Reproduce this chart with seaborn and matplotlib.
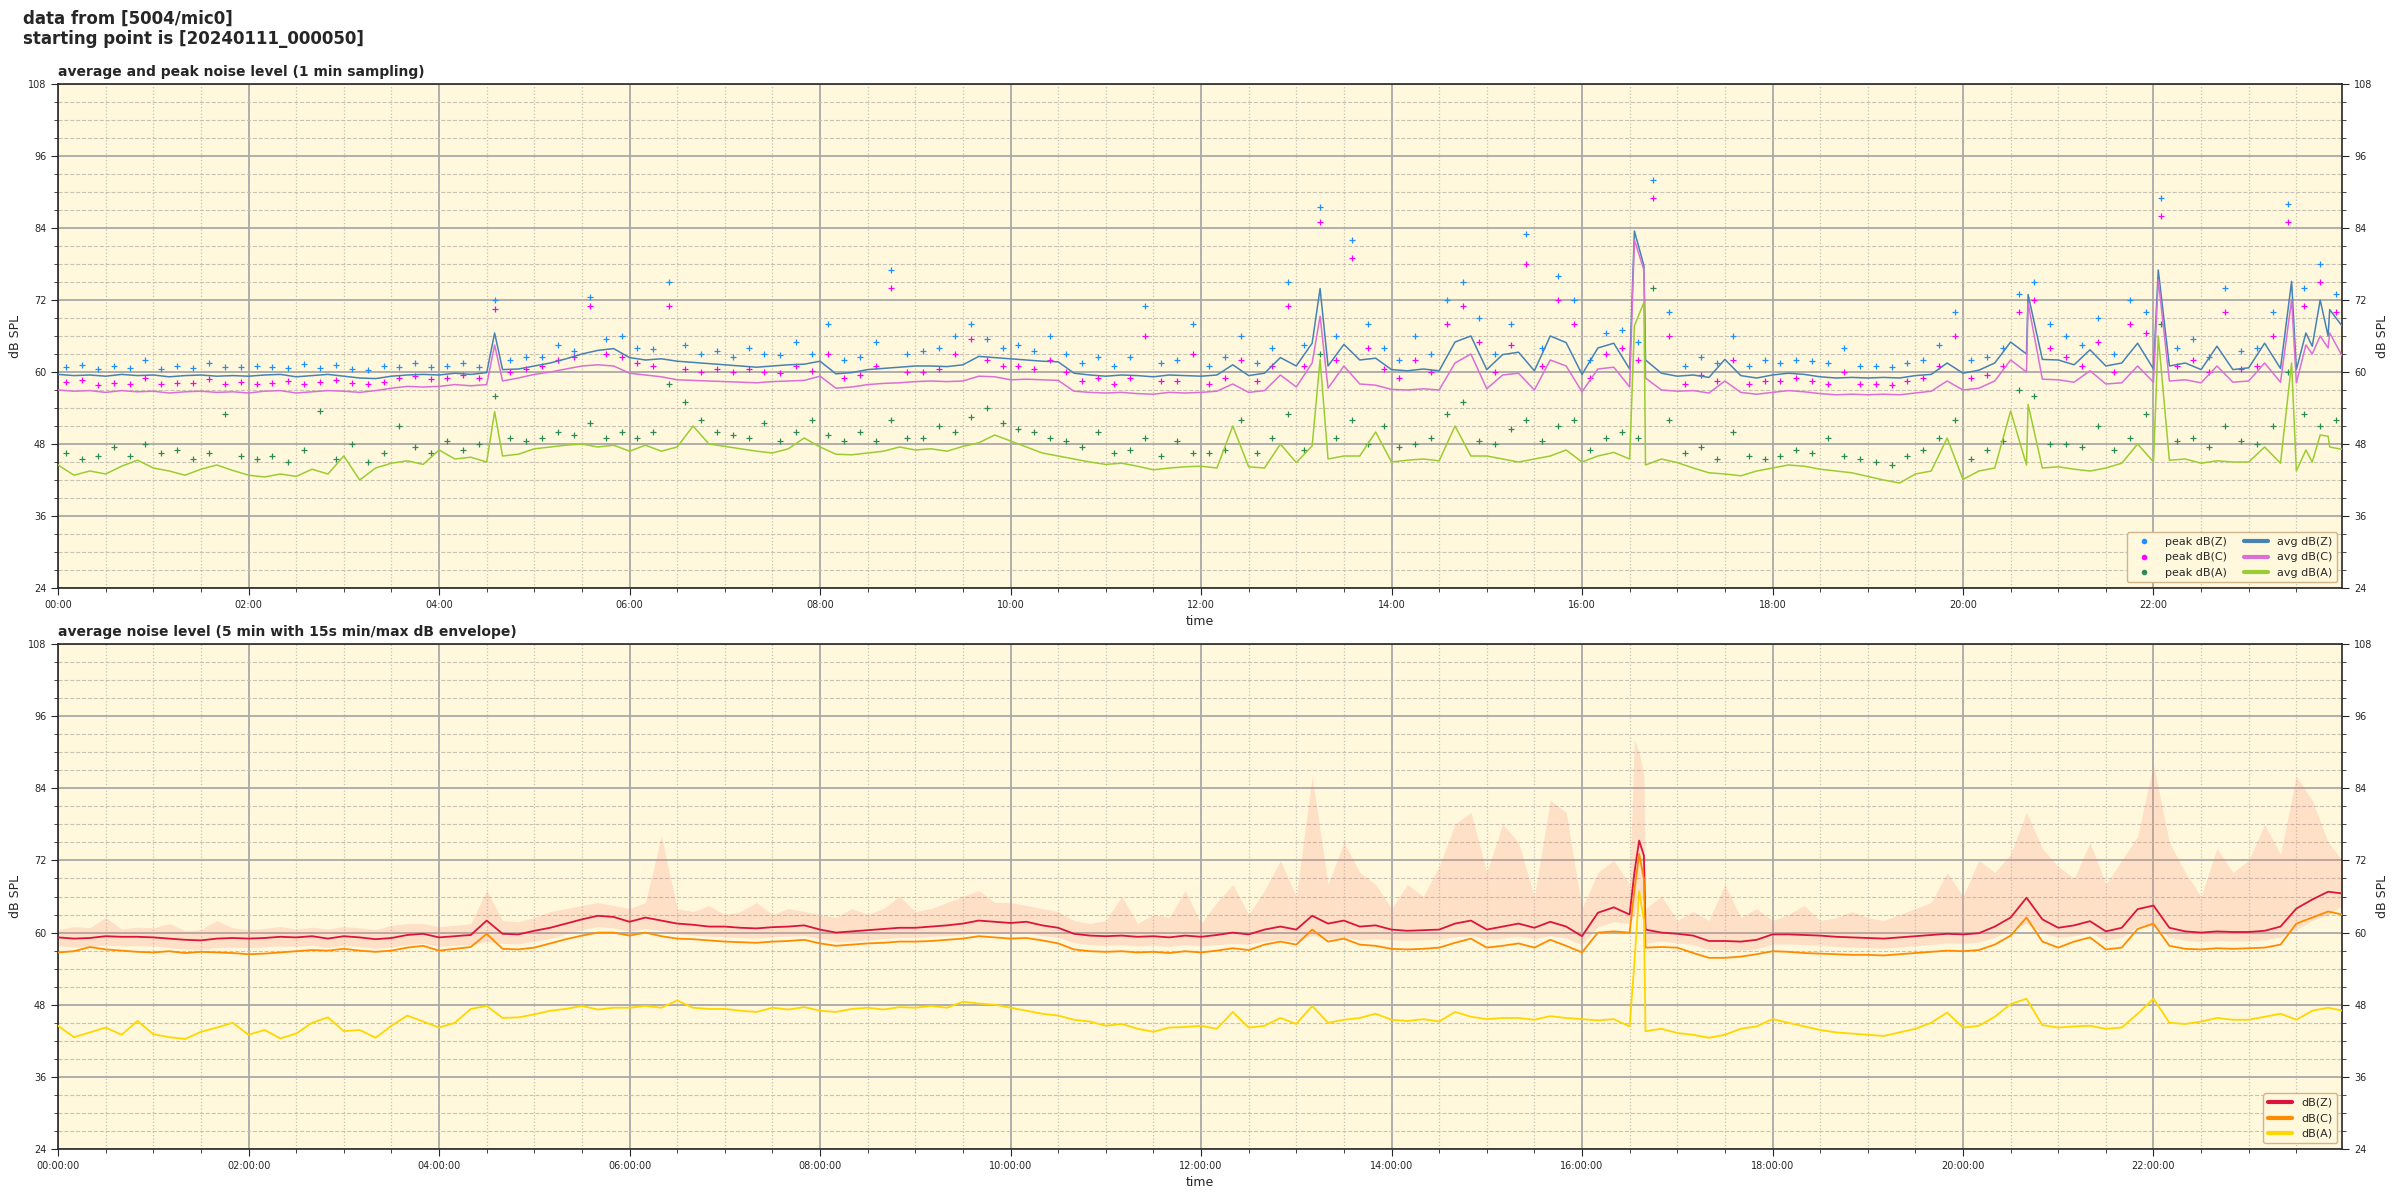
import numpy as np
import pandas as pd
import seaborn as sns
import matplotlib.pyplot as plt
import matplotlib.dates as mdates
from matplotlib.lines import Line2D

# ---- top chart: 1 min avg + peaks, read every 10 min (minute 0..1430) ----
avg_z = [59.6, 59.4, 59.5, 59.3, 59.6, 59.4,  59.5, 59.2, 59.4, 59.5, 59.3, 59.4,
         59.3, 59.5, 59.6, 59.2, 59.4, 59.6,  59.3, 59.0, 58.9, 59.3, 59.5, 59.6,
         59.5, 59.8, 59.6, 59.9, 60.4, 60.5,  61.0, 61.5, 62.2, 63.0, 63.6, 63.9,
         62.4, 62.0, 62.2, 61.8, 61.6, 61.4,  61.2, 61.0, 60.8, 61.0, 61.2, 61.3,
         61.8, 59.7, 59.9, 60.4, 60.6, 60.8,  61.0, 61.0, 60.9, 61.2, 62.6, 62.4,
         62.2, 62.0, 61.8, 61.7, 59.8, 59.5,  59.3, 59.5, 59.4, 59.2, 59.5, 59.4,
         59.3, 59.5, 61.2, 59.4, 59.8, 62.4,  61.0, 64.8, 61.0, 64.6, 62.0, 62.3,
         60.4, 60.2, 60.5, 60.2, 65.0, 66.0,  60.4, 62.9, 63.3, 60.2, 66.0, 64.9,
         59.6, 64.0, 64.8, 60.5, 62.0, 59.8,  59.3, 59.5, 59.1, 62.1, 59.4, 59.0,
         59.5, 59.8, 59.6, 59.2, 59.0, 59.1,  59.0, 59.1, 59.0, 59.4, 59.6, 61.5,
         59.8, 60.3, 61.5, 65.0, 63.0, 62.1,  62.0, 61.2, 63.7, 61.0, 61.5, 64.8,
         60.5, 61.0, 61.5, 60.4, 64.3, 60.4,  60.7, 64.8, 60.6, 60.4, 64.3, 66.0]
avg_c = [57.0, 56.8, 56.9, 56.6, 56.9, 56.7,  56.8, 56.5, 56.7, 56.8, 56.6, 56.7,
         56.5, 56.8, 56.9, 56.5, 56.7, 56.9,  56.8, 56.6, 56.9, 57.3, 57.6, 57.5,
         57.6, 57.9, 57.7, 57.9, 58.5, 59.0,  59.6, 60.0, 60.5, 61.0, 61.2, 61.0,
         59.8, 59.5, 59.2, 58.7, 58.6, 58.5,  58.4, 58.3, 58.2, 58.4, 58.5, 58.6,
         59.3, 57.3, 57.5, 57.9, 58.1, 58.2,  58.4, 58.5, 58.4, 58.5, 59.3, 59.2,
         58.7, 58.8, 58.7, 58.6, 56.8, 56.6,  56.5, 56.6, 56.4, 56.3, 56.6, 56.5,
         56.6, 56.8, 58.0, 56.6, 56.9, 59.5,  57.5, 61.5, 57.3, 61.0, 58.0, 57.8,
         57.1, 57.0, 57.2, 57.0, 61.5, 63.0,  57.2, 59.5, 59.8, 57.0, 62.0, 61.0,
         56.7, 60.5, 60.8, 57.5, 59.0, 57.0,  56.8, 56.9, 56.5, 58.5, 56.6, 56.3,
         56.6, 56.9, 56.7, 56.4, 56.2, 56.3,  56.2, 56.3, 56.2, 56.5, 56.8, 58.5,
         57.0, 57.3, 58.5, 62.0, 60.0, 58.8,  58.7, 58.3, 60.2, 58.0, 58.2, 61.0,
         58.3, 58.5, 58.7, 58.2, 61.0, 58.3,  58.5, 61.5, 58.3, 58.2, 63.0, 64.0]
avg_a = [44.5, 42.8, 43.5, 43.0, 44.3, 45.3,  44.0, 43.5, 42.8, 43.8, 44.5, 43.6,
         42.8, 42.5, 43.0, 42.6, 43.8, 43.0,  46.0, 42.0, 44.0, 44.8, 45.2, 44.6,
         47.0, 45.5, 45.8, 45.0, 46.0, 46.3,  47.2, 47.5, 47.8, 48.0, 47.5, 47.8,
         46.8, 47.8, 46.8, 47.5, 51.0, 48.0,  47.6, 47.2, 46.8, 46.5, 47.2, 49.0,
         47.5, 46.3, 46.2, 46.5, 46.8, 47.5,  47.0, 47.2, 46.8, 47.6, 48.2, 49.5,
         48.5, 47.5, 46.5, 46.0, 45.5, 45.0,  44.6, 44.8, 44.3, 43.7, 44.0, 44.2,
         44.3, 44.0, 51.0, 44.2, 44.0, 48.0,  44.9, 47.7, 45.5, 46.0, 46.0, 50.0,
         45.0, 45.3, 45.5, 45.2, 51.0, 46.0,  46.0, 45.5, 45.0, 45.5, 46.0, 47.0,
         45.0, 46.0, 46.6, 45.5, 44.5, 45.5,  44.9, 44.0, 43.2, 43.0, 42.7, 43.5,
         44.0, 44.5, 44.3, 43.8, 43.5, 43.2,  42.6, 42.0, 41.5, 43.0, 43.5, 49.0,
         42.1, 43.5, 44.0, 53.5, 44.5, 44.0,  44.2, 43.8, 43.5, 44.0, 44.8, 48.0,
         45.0, 45.3, 45.5, 44.8, 45.2, 45.0,  45.0, 47.5, 44.8, 43.5, 45.0, 49.3]

# short spikes read between the 10 min readings
spike_min = [275, 795, 993, 999, 1241, 1323, 1407, 1416, 1425, 1431, 1439]
spike_z = [66.5, 73.9, 83.5, 77.7, 72.9, 77.0, 75.1, 66.5, 72.0, 70.4, 67.6]
spike_c = [64.5, 69.3, 82.0, 77.0, 71.5, 75.4, 72.0, 64.5, 66.0, 66.5, 62.6]
spike_a = [53.4, 62.1, 67.7, 71.6, 54.6, 66.0, 61.5, 47.0, 49.5, 47.5, 47.1]

# peaks, read at minute 5..1435 every 10 min
peak_z = [60.8, 61.2, 60.5, 61.0, 60.6, 62.0,  60.5, 61.0, 60.7, 61.5, 60.8, 60.9,
          61.0, 60.8, 60.6, 61.3, 60.7, 61.2,  60.5, 60.3, 61.0, 60.8, 61.5, 60.9,
          61.0, 61.5, 60.9, 72.0, 62.0, 62.5,  62.5, 64.5, 63.5, 72.5, 65.5, 66.0,
          64.0, 63.8, 75.0, 64.5, 63.0, 63.5,  62.5, 64.0, 63.0, 62.8, 65.0, 63.0,
          68.0, 62.0, 62.5, 65.0, 77.0, 63.0,  63.5, 64.0, 66.0, 68.0, 65.5, 64.0,
          64.5, 63.5, 66.0, 63.0, 61.5, 62.5,  61.0, 62.5, 71.0, 61.5, 62.0, 68.0,
          61.0, 62.5, 66.0, 61.5, 64.0, 75.0,  64.5, 87.5, 66.0, 82.0, 68.0, 64.0,
          62.0, 66.0, 63.0, 72.0, 75.0, 69.0,  63.0, 68.0, 83.0, 64.0, 76.0, 72.0,
          62.0, 66.5, 67.0, 65.0, 92.0, 70.0,  61.0, 62.5, 61.5, 66.0, 61.0, 62.0,
          61.5, 62.0, 61.8, 61.5, 64.0, 61.0,  61.0, 60.8, 61.5, 62.0, 64.5, 70.0,
          62.0, 62.5, 64.0, 73.0, 75.0, 68.0,  66.0, 64.5, 69.0, 63.0, 72.0, 70.0,
          89.0, 64.0, 65.5, 62.5, 74.0, 63.5,  64.0, 70.0, 88.0, 74.0, 78.0, 73.0]
peak_c = [58.3, 58.6, 57.9, 58.2, 58.0, 59.0,  58.0, 58.2, 58.1, 58.8, 58.0, 58.3,
          58.0, 58.2, 58.5, 58.0, 58.3, 58.6,  58.2, 58.0, 58.4, 59.0, 59.3, 58.8,
          59.0, 59.5, 59.0, 70.5, 60.0, 60.5,  61.0, 62.0, 62.5, 71.0, 63.0, 62.5,
          61.5, 61.0, 71.0, 60.5, 60.0, 60.5,  60.0, 60.5, 60.0, 59.8, 61.0, 60.2,
          63.0, 59.0, 59.5, 61.0, 74.0, 60.0,  60.0, 60.5, 63.0, 65.5, 62.0, 61.0,
          61.0, 60.5, 62.0, 60.0, 58.5, 59.0,  58.0, 59.0, 66.0, 58.5, 58.5, 63.0,
          58.0, 59.0, 62.0, 58.5, 61.0, 71.0,  61.0, 85.0, 62.0, 79.0, 64.0, 60.5,
          59.0, 62.0, 60.0, 68.0, 71.0, 65.0,  60.0, 64.5, 78.0, 61.0, 72.0, 68.0,
          59.0, 63.0, 64.0, 62.0, 89.0, 66.0,  58.0, 59.5, 58.5, 62.0, 58.0, 58.5,
          58.5, 59.0, 58.5, 58.0, 60.0, 58.0,  58.0, 57.8, 58.5, 59.0, 61.0, 66.0,
          59.0, 59.5, 61.0, 70.0, 72.0, 64.0,  62.5, 61.0, 65.0, 60.0, 68.0, 66.5,
          86.0, 61.0, 62.0, 60.0, 70.0, 60.5,  61.0, 66.0, 85.0, 71.0, 75.0, 70.0]
peak_a = [46.5, 45.5, 46.0, 47.5, 46.0, 48.0,  46.5, 47.0, 45.5, 46.5, 53.0, 46.0,
          45.5, 46.0, 45.0, 47.0, 53.5, 45.5,  48.0, 45.0, 46.5, 51.0, 47.5, 46.5,
          48.5, 47.0, 48.0, 56.0, 49.0, 48.5,  49.0, 50.0, 49.5, 51.5, 49.0, 50.0,
          49.0, 50.0, 58.0, 55.0, 52.0, 50.0,  49.5, 49.0, 51.5, 48.5, 50.0, 52.0,
          49.5, 48.5, 50.0, 48.5, 52.0, 49.0,  49.0, 51.0, 50.0, 52.5, 54.0, 51.5,
          50.5, 50.0, 49.0, 48.5, 47.5, 50.0,  46.5, 47.0, 49.0, 46.0, 48.5, 46.5,
          46.5, 47.0, 52.0, 46.5, 49.0, 53.0,  47.0, 63.0, 49.0, 52.0, 48.0, 51.0,
          47.5, 48.0, 49.0, 53.0, 55.0, 48.5,  48.0, 50.5, 52.0, 48.5, 51.0, 52.0,
          47.0, 49.0, 50.0, 49.0, 74.0, 52.0,  46.5, 47.5, 45.5, 50.0, 46.0, 45.5,
          46.0, 47.0, 46.5, 49.0, 46.0, 45.5,  45.0, 44.5, 46.0, 47.0, 49.0, 52.0,
          45.5, 47.0, 48.5, 57.0, 56.0, 48.0,  48.0, 47.5, 51.0, 47.0, 49.0, 53.0,
          68.0, 48.5, 49.0, 47.5, 51.0, 48.5,  48.0, 51.0, 60.0, 53.0, 51.0, 52.0]

# ---- bottom chart: 5 min avg, read every 10 min ----
low_z = [59.2, 59.0, 59.1, 59.4, 59.3, 59.3,  59.2, 59.0, 58.8, 58.7, 59.0, 59.1,
         59.0, 59.1, 59.3, 59.2, 59.4, 59.0,  59.4, 59.2, 58.9, 59.1, 59.6, 59.8,
         59.2, 59.4, 59.6, 62.0, 59.8, 59.7,  60.3, 60.8, 61.5, 62.2, 62.8, 62.6,
         61.8, 62.5, 62.0, 61.5, 61.3, 61.0,  61.0, 60.8, 60.7, 60.9, 61.0, 61.2,
         60.5, 60.0, 60.2, 60.4, 60.6, 60.8,  60.8, 61.0, 61.2, 61.5, 62.0, 61.8,
         61.6, 61.8, 61.2, 60.8, 59.8, 59.5,  59.4, 59.5, 59.3, 59.4, 59.2, 59.5,
         59.3, 59.6, 60.0, 59.7, 60.5, 61.0,  60.5, 62.8, 61.5, 62.0, 61.0, 61.2,
         60.5, 60.3, 60.4, 60.5, 61.5, 62.0,  60.5, 61.0, 61.5, 60.8, 61.8, 61.0,
         59.4, 63.3, 64.2, 63.0, 60.5, 60.0,  59.8, 59.5, 58.6, 58.6, 58.5, 58.8,
         59.7, 59.7, 59.6, 59.5, 59.3, 59.2,  59.1, 59.0, 59.2, 59.4, 59.6, 59.8,
         59.7, 59.9, 61.0, 62.5, 65.8, 62.2,  60.8, 61.2, 61.9, 60.2, 60.8, 63.9,
         64.5, 60.8, 60.2, 60.0, 60.2, 60.1,  60.1, 60.3, 61.0, 64.0, 65.5, 66.8]
low_c = [56.7, 56.9, 57.6, 57.2, 57.0, 56.8,  56.7, 56.9, 56.6, 56.8, 56.7, 56.6,
         56.4, 56.5, 56.7, 56.9, 57.1, 57.0,  57.3, 57.0, 56.8, 57.0, 57.5, 57.8,
         57.0, 57.3, 57.6, 59.8, 57.3, 57.2,  57.5, 58.2, 58.9, 59.5, 60.0, 60.0,
         59.5, 60.0, 59.4, 59.0, 58.9, 58.7,  58.5, 58.4, 58.3, 58.5, 58.6, 58.8,
         58.2, 57.8, 58.0, 58.2, 58.3, 58.5,  58.5, 58.6, 58.8, 59.0, 59.4, 59.2,
         59.0, 59.1, 58.7, 58.2, 57.2, 56.9,  56.8, 56.9, 56.7, 56.8, 56.6, 56.9,
         56.7, 57.0, 57.4, 57.1, 58.0, 58.5,  58.0, 60.5, 58.5, 59.0, 58.0, 57.8,
         57.3, 57.2, 57.3, 57.5, 58.3, 59.0,  57.5, 57.8, 58.2, 57.5, 58.8, 57.8,
         56.7, 60.0, 60.2, 60.0, 57.5, 57.6,  57.5, 56.6, 55.8, 55.8, 56.0, 56.4,
         56.9, 56.8, 56.6, 56.5, 56.4, 56.3,  56.3, 56.2, 56.4, 56.6, 56.8, 57.0,
         56.9, 57.1, 58.0, 59.5, 62.5, 58.5,  57.5, 58.5, 59.2, 57.2, 57.5, 60.6,
         61.5, 57.8, 57.3, 57.2, 57.4, 57.3,  57.4, 57.5, 58.0, 61.5, 62.5, 63.5]
low_a = [44.5, 42.6, 43.4, 44.2, 43.0, 45.3,  43.1, 42.6, 42.3, 43.5, 44.2, 45.0,
         43.0, 43.8, 42.4, 43.2, 45.0, 45.9,  43.6, 43.8, 42.5, 44.5, 46.2, 45.2,
         44.2, 45.0, 47.3, 47.8, 45.8, 45.9,  46.4, 47.0, 47.3, 47.8, 47.2, 47.5,
         47.5, 47.8, 47.5, 48.7, 47.5, 47.3,  47.3, 47.0, 46.8, 47.5, 47.2, 47.6,
         47.0, 46.8, 47.3, 47.5, 47.2, 47.6,  47.5, 47.8, 47.5, 48.5, 48.2, 48.0,
         47.5, 47.0, 46.5, 46.2, 45.5, 45.2,  44.5, 44.8, 44.0, 43.5, 44.2, 44.3,
         44.5, 44.0, 46.8, 44.2, 44.5, 45.8,  44.8, 47.8, 45.0, 45.5, 45.8, 46.5,
         45.5, 45.3, 45.6, 45.2, 46.8, 46.0,  45.6, 45.8, 45.8, 45.5, 46.1, 45.8,
         45.6, 45.4, 45.6, 44.4, 43.6, 44.0,  43.3, 43.0, 42.5, 43.0, 44.0, 44.4,
         45.6, 45.0, 44.4, 43.8, 43.4, 43.2,  43.0, 42.8, 43.4, 44.0, 45.0, 46.7,
         44.2, 44.5, 46.0, 48.1, 49.0, 44.6,  44.2, 44.4, 44.5, 44.0, 44.2, 46.5,
         49.0, 45.0, 44.8, 45.2, 45.8, 45.5,  45.5, 46.0, 46.5, 45.5, 47.0, 47.5]
env_lo = [57.8, 57.6, 57.7, 57.9, 57.8, 57.8,  57.8, 57.5, 57.3, 57.2, 57.5, 57.6,
          57.5, 57.6, 57.8, 57.7, 57.9, 57.5,  57.9, 57.7, 57.4, 57.6, 58.0, 58.2,
          57.7, 57.9, 58.0, 58.5, 58.2, 58.1,  58.6, 59.0, 59.8, 60.5, 61.0, 60.8,
          60.2, 60.7, 60.3, 59.8, 59.6, 59.4,  59.3, 59.2, 59.1, 59.3, 59.4, 59.5,
          59.0, 58.5, 58.6, 58.8, 59.0, 59.2,  59.2, 59.4, 59.5, 59.7, 60.2, 60.0,
          59.8, 60.0, 59.5, 59.2, 58.3, 58.0,  57.9, 58.0, 57.8, 57.9, 57.7, 58.0,
          57.8, 58.0, 58.2, 58.1, 58.6, 58.8,  58.6, 59.5, 59.0, 59.2, 58.8, 59.0,
          58.8, 58.7, 58.8, 58.9, 59.3, 59.5,  58.9, 59.1, 59.4, 59.0, 59.5, 59.1,
          58.0, 61.0, 61.8, 61.5, 58.3, 58.6,  58.3, 58.0, 57.2, 57.2, 57.1, 57.3,
          58.1, 58.1, 58.0, 57.9, 57.7, 57.6,  57.5, 57.4, 57.6, 57.8, 58.0, 58.3,
          58.2, 58.4, 59.2, 60.5, 61.5, 60.0,  59.2, 59.5, 60.0, 58.7, 59.2, 61.0,
          61.0, 59.2, 58.7, 58.5, 58.7, 58.6,  58.6, 58.8, 59.3, 60.5, 62.0, 63.0]
env_hi = [60.5, 61.0, 60.8, 62.5, 60.6, 60.9,  60.8, 61.5, 60.3, 60.5, 62.0, 60.8,
          60.5, 60.7, 61.0, 60.6, 60.9, 60.6,  61.0, 60.8, 60.5, 61.2, 61.5, 61.5,
          61.0, 61.2, 61.5, 67.0, 62.0, 61.8,  62.5, 63.5, 64.0, 64.5, 65.0, 64.5,
          64.0, 65.0, 76.0, 64.0, 63.5, 64.5,  63.0, 63.5, 65.0, 63.0, 64.0, 63.5,
          63.0, 62.5, 64.0, 63.0, 64.0, 66.0,  63.5, 64.0, 65.0, 66.0, 67.0, 65.0,
          65.0, 64.5, 64.0, 63.5, 62.0, 61.5,  62.0, 66.0, 61.5, 63.0, 62.5, 67.0,
          61.5, 65.0, 68.0, 63.0, 67.0, 72.0,  66.0, 86.0, 68.0, 75.0, 70.0, 68.0,
          64.0, 68.0, 66.0, 71.0, 78.0, 80.0,  70.0, 78.0, 75.0, 66.0, 82.0, 80.0,
          64.0, 70.0, 72.0, 68.0, 64.0, 66.0,  62.0, 63.5, 62.0, 68.0, 62.5, 64.0,
          62.0, 63.0, 64.5, 62.0, 62.5, 63.5,  62.5, 62.0, 63.0, 64.0, 65.0, 70.0,
          66.0, 72.0, 70.0, 73.0, 80.0, 74.0,  71.0, 69.0, 75.0, 68.0, 72.0, 76.0,
          88.0, 75.0, 70.0, 66.0, 74.0, 70.0,  72.0, 78.0, 73.0, 86.0, 82.0, 75.0]

low_spike_min = [993, 996, 999, 1439]
low_spike_z = [70.0, 75.3, 72.8, 66.5]
low_spike_c = [67.0, 73.1, 68.9, 63.0]
low_spike_a = [55.0, 66.9, 62.0, 47.0]
low_spike_lo = [63.0, 66.0, 65.0, 64.5]
low_spike_hi = [92.0, 90.0, 86.0, 72.0]

start = pd.Timestamp("2024-01-11 00:00:00")
grid_min = np.arange(0, 1440, 10)


def to_time(minutes):
    return start + pd.to_timedelta(np.asarray(minutes, dtype=float), unit="min")


top = pd.DataFrame({
    "minute": np.concatenate([grid_min, spike_min]),
    "z": avg_z + spike_z, "c": avg_c + spike_c, "a": avg_a + spike_a,
}).sort_values("minute")
top["time"] = to_time(top["minute"])

peaks = pd.DataFrame({"time": to_time(grid_min + 5), "z": peak_z, "c": peak_c, "a": peak_a})

low = pd.DataFrame({
    "minute": np.concatenate([grid_min, low_spike_min]),
    "z": low_z + low_spike_z, "c": low_c + low_spike_c, "a": low_a + low_spike_a,
    "lo": env_lo + low_spike_lo, "hi": env_hi + low_spike_hi,
}).sort_values("minute")
low["time"] = to_time(low["minute"])

sns.set_style("ticks")
plt.rcParams["font.family"] = ["DejaVu Sans"]

fig = plt.figure(figsize=(24, 12), dpi=100)
ax1 = fig.add_axes([0.0242, 0.51, 0.9518, 0.42])
ax2 = fig.add_axes([0.0242, 0.0425, 0.9518, 0.4208])

fig.text(0.0095, 0.992, "data from [5004/mic0]\nstarting point is [20240111_000050]",
         ha="left", va="top", fontsize=12, fontweight="bold")

# top: peaks as small crosses, averages as lines
for col, color in [("z", "dodgerblue"), ("c", "magenta"), ("a", "seagreen")]:
    sns.scatterplot(data=peaks, x="time", y=col, ax=ax1, marker="+", s=16,
                    color=color, linewidth=0.9, legend=False, zorder=3)
for col, color in [("z", "steelblue"), ("c", "orchid"), ("a", "yellowgreen")]:
    sns.lineplot(data=top, x="time", y=col, ax=ax1, color=color, lw=1.1,
                 estimator=None, legend=False, zorder=4)

# bottom: min/max envelope + 5 min averages
ax2.fill_between(low["time"], low["lo"], low["hi"], color="salmon", alpha=0.2, lw=0, zorder=2)
for col, color in [("z", "crimson"), ("c", "darkorange"), ("a", "gold")]:
    sns.lineplot(data=low, x="time", y=col, ax=ax2, color=color, lw=1.3,
                 estimator=None, legend=False, zorder=4)

for ax, fmt in [(ax1, "%H:%M"), (ax2, "%H:%M:%S")]:
    ax.set_facecolor("cornsilk")
    ax.set_xlim(start, start + pd.Timedelta(minutes=1439))
    ax.set_ylim(24, 108)
    ax.xaxis.set_major_locator(mdates.HourLocator(byhour=range(0, 24, 2)))
    ax.xaxis.set_minor_locator(mdates.MinuteLocator(byminute=[0, 30]))
    ax.xaxis.set_major_formatter(mdates.DateFormatter(fmt))
    ax.set_yticks(np.arange(24, 109, 12))
    ax.set_yticks(np.arange(24, 109, 3), minor=True)
    ax.grid(which="major", color="darkgrey", lw=1.3, zorder=0)
    ax.grid(which="minor", axis="y", color="#c8c2b4", ls="--", lw=0.8)
    ax.grid(which="minor", axis="x", color="#c8c2b4", ls=":", lw=0.9)
    ax.set_axisbelow(True)
    ax.tick_params(axis="both", which="both", labelsize=7, direction="out")
    ax.tick_params(axis="y", which="both", right=True, labelright=True)
    ax.tick_params(which="major", length=5)
    ax.tick_params(which="minor", length=3)
    for s in ax.spines.values():
        s.set_linewidth(1.2)
    ax.set_xlabel("time", fontsize=9)
    ax.set_ylabel("dB SPL", fontsize=9)
    sec = ax.secondary_yaxis("right")
    sec.set_yticks([])
    sec.set_ylabel("dB SPL", fontsize=9, labelpad=24)
    sec.spines["right"].set_visible(False)

ax1.set_title("average and peak noise level (1 min sampling)", loc="left",
              fontsize=10, fontweight="bold")
ax2.set_title("average noise level (5 min with 15s min/max dB envelope)", loc="left",
              fontsize=10, fontweight="bold")

h1 = [Line2D([], [], ls="", marker="o", ms=3, color=c) for c in ["dodgerblue", "magenta", "seagreen"]]
h1 += [Line2D([], [], lw=3, color=c) for c in ["steelblue", "orchid", "yellowgreen"]]
ax1.legend(h1, ["peak dB(Z)", "peak dB(C)", "peak dB(A)", "avg dB(Z)", "avg dB(C)", "avg dB(A)"],
           loc="lower right", ncol=2, fontsize=8, facecolor="cornsilk", edgecolor="tan",
           framealpha=1, handlelength=2.2, columnspacing=1.5)

h2 = [Line2D([], [], lw=3, color=c) for c in ["crimson", "darkorange", "gold"]]
ax2.legend(h2, ["dB(Z)", "dB(C)", "dB(A)"], loc="lower right", fontsize=8,
           facecolor="cornsilk", edgecolor="tan", framealpha=1, handlelength=2.2)

plt.savefig("out.png", dpi=100)
